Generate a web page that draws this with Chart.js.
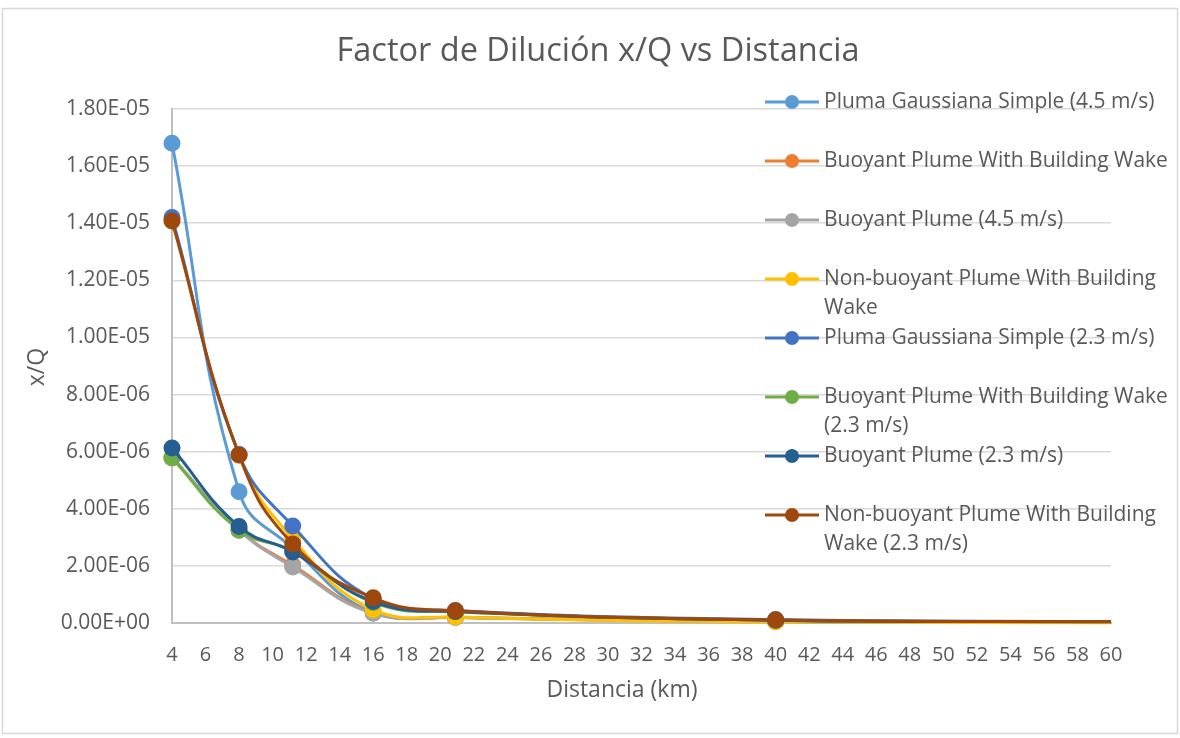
<!DOCTYPE html>
<html>
<head>
<meta charset="utf-8">
<script src="https://cdn.jsdelivr.net/npm/chart.js@4.4.1/dist/chart.umd.min.js"></script>
<style>
  html, body { margin: 0; padding: 0; background: #ffffff; }
  #wrap { position: relative; width: 1180px; height: 738px; }
</style>
</head>
<body>
<div id="wrap"><canvas id="c" width="1180" height="738"></canvas></div>
<script>
// ---- data ----
const chartTitle = 'Factor de Dilución x/Q vs Distancia';
const xTitle = 'Distancia (km)';
const yTitle = 'x/Q';
const distances = [4, 8, 11.2, 16, 20.9, 40, 60];

const seriesNames = [
  'Pluma Gaussiana Simple (4.5 m/s)',
  'Buoyant Plume With Building Wake',
  'Buoyant Plume (4.5 m/s)',
  'Non-buoyant Plume With Building Wake',
  'Pluma Gaussiana Simple (2.3 m/s)',
  'Buoyant Plume With Building Wake (2.3 m/s)',
  'Buoyant Plume (2.3 m/s)',
  'Non-buoyant Plume With Building Wake (2.3 m/s)'
];

const gaussSimple45   = [1.68e-5, 4.60e-6, 2.62e-6, 3.5e-7, 2.0e-7, 5.0e-8, 2.0e-8];
const buoyWake45      = [5.80e-6, 3.25e-6, 2.02e-6, 3.6e-7, 2.0e-7, 5.0e-8, 2.0e-8];
const buoyPlume45     = [5.80e-6, 3.25e-6, 1.96e-6, 3.4e-7, 1.9e-7, 5.0e-8, 2.0e-8];
const nonBuoyWake45   = [1.41e-5, 5.88e-6, 2.95e-6, 4.6e-7, 2.1e-7, 4.0e-8, 1.0e-8];
const gaussSimple23   = [1.42e-5, 5.90e-6, 3.40e-6, 8.5e-7, 4.4e-7, 1.2e-7, 5.0e-8];
const buoyWake23      = [5.78e-6, 3.26e-6, 2.52e-6, 7.2e-7, 3.9e-7, 1.0e-7, 4.0e-8];
const buoyPlume23     = [6.13e-6, 3.38e-6, 2.49e-6, 7.5e-7, 4.0e-7, 1.0e-7, 4.0e-8];
const nonBuoyWake23   = [1.408e-5, 5.88e-6, 2.77e-6, 8.8e-7, 4.3e-7, 1.05e-7, 5.0e-8];

const seriesValues = [gaussSimple45, buoyWake45, buoyPlume45, nonBuoyWake45,
                      gaussSimple23, buoyWake23, buoyPlume23, nonBuoyWake23];

const yMin = 0, yMax = 1.8e-5, yStep = 2e-6;
const xMin = 4, xMax = 60, xStep = 2;

// ---- styles ----
const colors = ['#5B9BD5', '#ED7D31', '#A5A5A5', '#FFC000', '#4472C4', '#70AD47', '#255E91', '#9E480E'];
const textColor = '#595959';
const fontFamily = '"Open Sans", "Noto Sans", sans-serif';

function fmtExp(v) {
  if (Math.abs(v) < 1e-12) return '0.00E+00';
  let s = v.toExponential(2).toUpperCase();
  const m = s.match(/^(-?[\d.]+)E([+-])(\d+)$/);
  if (!m) return s;
  return m[1] + 'E' + m[2] + (m[3].length < 2 ? '0' + m[3] : m[3]);
}

const datasets = seriesNames.map((name, i) => ({
  label: name,
  data: distances.map((d, j) => ({ x: d, y: seriesValues[i][j] })),
  borderColor: colors[i],
  backgroundColor: colors[i],
  pointBackgroundColor: colors[i],
  pointBorderColor: colors[i],
  borderWidth: 3,
  pointRadius: ctx => (ctx.dataIndex === distances.length - 1 ? 0 : 7),
  pointHoverRadius: 7,
  tension: 0.45,
  fill: false,
  clip: false,
  order: seriesNames.length - i
}));

const frame = {
  id: 'frame',
  beforeDraw(chart) {
    const ctx = chart.ctx;
    ctx.save();
    ctx.fillStyle = '#ffffff';
    ctx.fillRect(0, 0, chart.width, chart.height);
    ctx.strokeStyle = '#d9d9d9';
    ctx.lineWidth = 1.5;
    ctx.strokeRect(2.5, 8.5, 1175, 725);
    ctx.restore();
  }
};

const titles = {
  id: 'titles',
  afterDraw(chart) {
    const ctx = chart.ctx;
    ctx.save();
    ctx.fillStyle = textColor;
    ctx.textAlign = 'center';
    ctx.textBaseline = 'middle';
    ctx.font = '32.5px ' + fontFamily;
    ctx.fillText(chartTitle, 598, 52);
    ctx.font = '23px ' + fontFamily;
    ctx.fillText(xTitle, 622, 690);
    ctx.translate(37, 367);
    ctx.rotate(-Math.PI / 2);
    ctx.fillText(yTitle, 0, 0);
    ctx.restore();
  }
};

const customLegend = {
  id: 'customLegend',
  afterDatasetsDraw(chart) {
    const ctx = chart.ctx;
    ctx.save();
    const fontSize = 21;
    ctx.font = fontSize + 'px ' + fontFamily;
    ctx.textBaseline = 'middle';
    ctx.textAlign = 'left';
    const x0 = 765, x1 = 819, xm = 792, xt = 824;
    const top = 102, gap = 59, lh = 29, maxW = 350;
    seriesNames.forEach((name, i) => {
      const y = top + gap * i;
      ctx.strokeStyle = colors[i];
      ctx.lineWidth = 3;
      ctx.beginPath(); ctx.moveTo(x0, y); ctx.lineTo(x1, y); ctx.stroke();
      ctx.fillStyle = colors[i];
      ctx.beginPath(); ctx.arc(xm, y, 7, 0, Math.PI * 2); ctx.fill();
      const words = name.split(' ');
      const lines = [];
      let cur = '';
      words.forEach(w => {
        const t = cur ? cur + ' ' + w : w;
        if (ctx.measureText(t).width > maxW && cur) { lines.push(cur); cur = w; }
        else cur = t;
      });
      if (cur) lines.push(cur);
      ctx.fillStyle = textColor;
      lines.forEach((ln, k) => ctx.fillText(ln, xt, y + k * lh));
    });
    ctx.restore();
  }
};

new Chart(document.getElementById('c'), {
  type: 'line',
  data: { datasets },
  plugins: [frame, customLegend, titles],
  options: {
    responsive: false,
    animation: false,
    events: [],
    layout: { padding: { left: 0, right: 69, top: 109, bottom: 0 } },
    plugins: {
      legend: { display: false },
      tooltip: { enabled: false },
      title: { display: false }
    },
    scales: {
      x: {
        type: 'linear',
        min: xMin, max: xMax,
        afterFit(s) { s.height = 115; },
        ticks: {
          stepSize: xStep,
          color: textColor,
          font: { family: fontFamily, size: 20 },
          padding: 20,
          maxRotation: 0,
          autoSkip: false
        },
        grid: { color: 'rgba(0,0,0,0)', drawTicks: false },
        border: { display: true, color: '#bfbfbf', width: 2 },
        title: { display: false }
      },
      y: {
        type: 'linear',
        min: yMin, max: yMax,
        afterFit(s) { s.width = 172; },
        ticks: {
          stepSize: yStep,
          color: textColor,
          font: { family: fontFamily, size: 21 },
          padding: 22,
          callback: v => fmtExp(v)
        },
        grid: { color: '#d9d9d9', lineWidth: 1.5, drawTicks: false },
        border: { display: true, color: '#bfbfbf', width: 2 },
        title: { display: false }
      }
    }
  }
});
</script>
</body>
</html>
